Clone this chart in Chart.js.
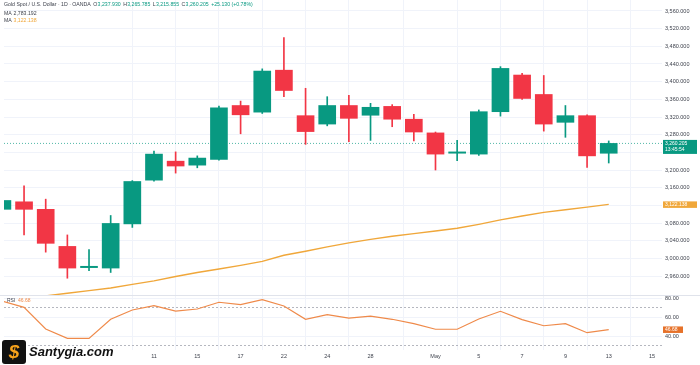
<!DOCTYPE html>
<html><head><meta charset="utf-8">
<script src="https://cdn.jsdelivr.net/npm/chart.js@4.4.1/dist/chart.umd.min.js"></script>
<style>
html,body{margin:0;padding:0;background:#fff;}
#wrap{position:relative;width:700px;height:365px;overflow:hidden;}
canvas{display:block;}
#logo{position:absolute;left:2px;top:339px;height:25px;display:flex;align-items:center;}
#logo .ic{width:24px;height:24px;background:#111;border-radius:3px;color:#f7a21b;font:italic bold 19px 'Liberation Sans',Arial,sans-serif;text-align:center;line-height:24px;}
#logo span{margin-left:3px;font:italic bold 13px 'Liberation Sans',Arial,sans-serif;color:#111;}
</style></head>
<body><div id="wrap"><canvas id="c" width="700" height="365"></canvas>
<div id="logo"><div class="ic">$</div><span>Santygia.com</span></div></div>
<script>
// ---- data ----
const opens  = [3111,3128,3111,3027,2979,2978,3078,3177,3220,3211,3224,3346,3331,3426,3323,3304,3346,3324,3344,3315,3284,3238,3236,3332,3415,3371,3308,3323,3237.93];
const highs  = [3134,3164,3134,3053,3020,3097,3176,3243,3241,3232,3345,3356,3429,3500,3385,3366,3369,3351,3348,3326,3286,3267,3336,3434,3419,3414,3346,3325,3265.785];
const lows   = [3108,3053,3014,2955,2972,2968,3070,3175,3193,3205,3222,3282,3328,3366,3258,3300,3264,3267,3298,3266,3200,3221,3233,3322,3360,3288,3274,3206,3215.855];
const closes = [3131,3111,3034,2978,2982,3079,3174,3236,3209,3227,3341,3325,3424,3380,3287,3346,3317,3342,3315,3286,3236,3241,3332,3430,3362,3304,3323,3232,3260.205];
const ma50   = [2903,2909,2915,2921,2927,2933,2941,2949,2959,2968,2976,2984,2993,3007,3016,3026,3035,3043,3050,3056,3062,3068,3077,3087,3096,3104,3110,3116,3122.138];
const rsi    = [76.8,70.2,47.4,37.5,37.5,57.6,67.4,71.9,66.3,68.4,75.5,73.0,78.2,71.6,57.6,62.4,58.8,61.0,57.6,53.0,47.1,47.1,57.9,66.0,57.2,50.8,53.0,43.5,46.68];
const tickIndex = [7,9,11,13,15,17,20,22,24,26,28,30];
const tickText  = ['11','15','17','22','24','28','May','5','7','9','13','15'];
const priceTicks = [2960,3000,3040,3080,3120,3160,3200,3240,3280,3320,3360,3400,3440,3480,3520,3560];
const hiddenPriceTicks = [3120,3240];
const rsiTicks = [40,60,80];
const rsiBands = [70,30];
const maOtherValue = 2783.192;

const GREEN='#089981', RED='#f23645', MAC='#f0a73a', RSIC='#ef8a4a', TXT='#3b3f4a', GRID='#f0f3fa';
const FONT="'Liberation Sans', Arial, sans-serif";
const xMin = 0.074, xMax = 30.46;
const idx = opens.map((_, i) => i);
const candleColor = idx.map(i => closes[i] >= opens[i] ? GREEN : RED);
const fmt = v => v.toLocaleString('en-US',{minimumFractionDigits:3,maximumFractionDigits:3});
const last = closes.length - 1;

const overlay = {
  id:'overlay',
  afterDraw(chart){
    const ctx = chart.ctx, y = chart.scales.y, r = chart.scales.rsi;
    ctx.save();
    ctx.strokeStyle='#e0e3eb'; ctx.lineWidth=1;
    ctx.beginPath(); ctx.moveTo(0, y.bottom+0.5); ctx.lineTo(700, y.bottom+0.5); ctx.stroke();
    ctx.textBaseline='middle'; ctx.textAlign='left';
    ctx.font='5.2px '+FONT;
    let cx = 4;
    const seq=(t,c,gap)=>{ctx.fillStyle=c; ctx.fillText(t,cx,5); cx += ctx.measureText(t).width + gap;};
    seq('Gold Spot / U.S. Dollar · 1D · OANDA',TXT,2.5);
    seq('O',TXT,0.3); seq(fmt(opens[last]),GREEN,2.5);
    seq('H',TXT,0.3); seq(fmt(highs[last]),GREEN,2.5);
    seq('L',TXT,0.3); seq(fmt(lows[last]),GREEN,2.5);
    seq('C',TXT,0.3); seq(fmt(closes[last]),GREEN,2.5);
    seq('+25.130 (+0.78%)',GREEN,0);
    const put=(t,x,yy,c)=>{ctx.fillStyle=c; ctx.fillText(t,x,yy);};
    put('MA',4,13.3,TXT); put(fmt(maOtherValue),13.5,13.3,TXT);
    put('MA',4,20.5,TXT); put(fmt(ma50[last]),13.5,20.5,MAC);
    ctx.font='5px '+FONT;
    put('RSI',7,300.5,TXT); put(rsi[last].toFixed(2),18,300.5,RSIC);
    const py = y.getPixelForValue(closes[last]);
    ctx.fillStyle=GREEN; ctx.fillRect(663, py-3.5, 34, 14);
    ctx.fillStyle='#fff'; ctx.font='5px '+FONT;
    ctx.fillText(fmt(closes[last]),665,py); ctx.fillText('13:45:54',665,py+6.5);
    const my = y.getPixelForValue(ma50[last]);
    ctx.fillStyle=MAC; ctx.fillRect(663, my-3, 34, 6.5);
    ctx.fillStyle='#fff'; ctx.fillText(fmt(ma50[last]),665,my+0.2);
    const ry = r.getPixelForValue(rsi[last]);
    ctx.fillStyle='#e6722a'; ctx.fillRect(663, ry-3.2, 20, 6.5);
    ctx.fillStyle='#fff'; ctx.fillText(rsi[last].toFixed(2),665,ry);
    ctx.restore();
  }
};

const zeroPad = s => { s.paddingTop=0; s.paddingBottom=0; s.paddingLeft=0; s.paddingRight=0; };

new Chart(document.getElementById('c'), {
  type:'bar',
  data:{ datasets:[
    { type:'line', label:'last', yAxisID:'y', data:[{x:xMin,y:closes[last]},{x:xMax,y:closes[last]}],
      borderColor:'rgba(8,153,129,0.7)', borderWidth:1, borderDash:[1,2], pointRadius:0, order:5 },
    { label:'wick', yAxisID:'y', data: idx.map(i=>({x:i, y:[lows[i],highs[i]]})),
      backgroundColor:candleColor, barThickness:1, grouped:false, order:3 },
    { label:'body', yAxisID:'y', data: idx.map(i=>({x:i, y:[opens[i],closes[i]]})),
      backgroundColor:candleColor, barThickness:17, minBarLength:1, grouped:false, order:2 },
    { type:'line', label:'MA', yAxisID:'y', data: idx.map(i=>({x:i,y:ma50[i]})),
      borderColor:MAC, borderWidth:1.4, pointRadius:0, tension:0, order:1 },
    { type:'line', label:'RSI', yAxisID:'rsi', data: idx.map(i=>({x:i,y:rsi[i]})),
      borderColor:RSIC, borderWidth:1.2, pointRadius:0, tension:0, order:1 },
    ...rsiBands.map(b=>({ type:'line', label:'band'+b, yAxisID:'rsi', data:[{x:xMin,y:b},{x:xMax,y:b}],
      borderColor:'#a3a6af', borderWidth:0.8, borderDash:[2,2], pointRadius:0, order:6 }))
  ]},
  options:{
    animation:false, responsive:false, devicePixelRatio:1,
    layout:{padding:{left:4,top:0,right:0,bottom:0}},
    plugins:{legend:{display:false}, tooltip:{enabled:false}},
    scales:{
      x:{ type:'linear', min:xMin, max:xMax, offset:false,
        afterBuildTicks: s => { s.ticks = tickIndex.map(v=>({value:v})); },
        afterFit: s => { s.height = 15; zeroPad(s); },
        ticks:{ callback: v => { const k = tickIndex.indexOf(v); return k<0?'':tickText[k]; },
          autoSkip:false, maxRotation:0, color:TXT, font:{family:FONT,size:5.5}, padding:3 },
        grid:{ color:GRID, drawTicks:false }, border:{display:false} },
      y:{ type:'linear', axis:'y', position:'right', stack:'pane', stackWeight:295, min:2917.0, max:3584.9,
        afterBuildTicks: s => { s.ticks = priceTicks.map(v=>({value:v})); },
        afterFit: s => { s.width = 38; zeroPad(s); },
        ticks:{ callback: v => hiddenPriceTicks.includes(v)?'':fmt(v), color:TXT, font:{family:FONT,size:5.5}, padding:3 },
        grid:{ color:GRID, drawTicks:false }, border:{display:false} },
      rsi:{ type:'linear', axis:'y', position:'right', stack:'pane', stackWeight:55, min:25.27, max:83.16,
        afterBuildTicks: s => { s.ticks = rsiTicks.map(v=>({value:v})); },
        afterFit: s => { s.width = 38; zeroPad(s); },
        ticks:{ callback: v => v.toFixed(2), color:TXT, font:{family:FONT,size:5.5}, padding:3 },
        grid:{ color:GRID, drawTicks:false }, border:{display:false} }
    }
  },
  plugins:[overlay]
});
</script></body></html>
